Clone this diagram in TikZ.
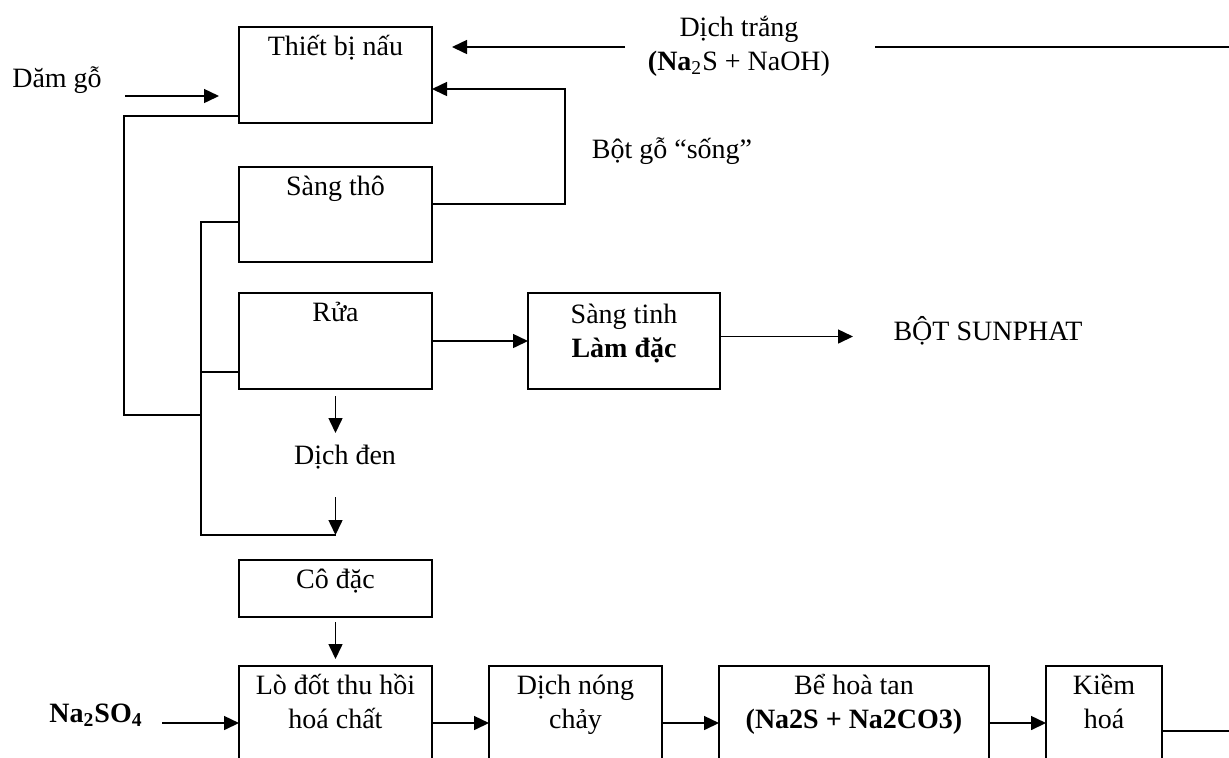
\documentclass[tikz,border=0pt]{standalone}
\usepackage{fontspec}
\setmainfont{Liberation Serif}
\usetikzlibrary{arrows.meta}

\begin{document}
\begin{tikzpicture}[x=0.5pt,y=-0.5pt,line width=0.75pt]
		\tikzstyle{every node}+=[inner sep=0pt,font=\fontsize{14}{17}\selectfont]
		\tikzstyle{box}=[draw,rectangle,outer sep=0pt,minimum width=96.5pt]
		\tikzstyle{txt}=[anchor=base,align=center]
		\tikzstyle{arr}=[-{Triangle[length=7.5pt,width=7pt]}]
		\clip (0,0) rectangle (1229,757);
		% khoi
		\node[box,minimum height=48pt,label={[txt,yshift=-14pt]north:Thiết bị nấu}] (thiet) at (335.5,75) {};
		\node[box,minimum height=47.5pt,label={[txt,yshift=-14pt]north:Sàng thô}] (sangtho) at (335.5,214.5) {};
		\node[box,minimum height=48pt,label={[txt,yshift=-14pt]north:Rửa}] (rua) at (335.5,341) {};
		\node[box,minimum height=48pt,minimum width=96pt,label={[txt,yshift=-32pt]north:{Sàng tinh\\\textbf{Làm đặc}}}] (sangtinh) at (624,341) {};
		\node[box,minimum height=28.5pt,label={[txt,yshift=-14pt]north:Cô đặc}] (coday) at (335.5,588.5) {};
		\node[box,minimum height=57pt,label={[txt,yshift=-31pt]north:{Lò đốt thu hồi\\hoá chất}}] (lodot) at (335.5,723) {};
		\node[box,minimum height=57pt,minimum width=86.5pt,label={[txt,yshift=-31pt]north:{Dịch nóng\\chảy}}] (nongchay) at (575.5,723) {};
		\node[box,minimum height=57pt,minimum width=135pt,label={[txt,yshift=-31pt]north:{Bể hoà tan\\\textbf{(Na2S + Na2CO3)}}}] (behoa) at (854,723) {};
		\node[box,minimum height=57pt,minimum width=58pt,label={[txt,yshift=-31pt]north:{Kiềm\\hoá}}] (kiem) at (1104,723) {};
		% chu
		\node[txt] (dam) at (57,87) {Dăm gỗ};
		\node[txt] (trang) at (739,70) {Dịch trắng\\\textbf{(Na}\textsubscript{2}S + NaOH)};
		\node[txt] (bot) at (672,158) {Bột gỗ “sống”};
		\node[txt] (den) at (345,464) {Dịch đen};
		\node[txt] (sunphat) at (988,340) {BỘT SUNPHAT};
		\node[txt] (na) at (96,722) {\textbf{Na\textsubscript{2}SO\textsubscript{4}}};
		% diem
		\coordinate (fbA) at (565,204);
		\coordinate (fbB) at (565,89);
		\coordinate (lnA) at (124,116);
		\coordinate (lnB) at (124,415);
		\coordinate (lnC) at (201,415);
		\coordinate (lnD) at (201,222);
		\coordinate (lnE) at (201,535);
		\coordinate (lnF) at (201,372);
		\coordinate (wlA) at (875,47);
		\coordinate (wlB) at (1229,47);
		% mui ten
		\draw[arr] (thiet.west) ++(-114,21) -- ++(94,0);
		\draw[arr] (thiet.east) ++(193,-28) -- ++(-173,0);
		\draw (wlA) -- (wlB);
		\draw[arr] (sangtho.east |- fbA) -- (fbA) -- (fbB) -- (thiet.east |- fbB);
		\draw (thiet.west |- lnA) -- (lnA) -- (lnB) -- (lnC);
		\draw (sangtho.west |- lnD) -- (lnD) -- (lnE) -- (rua.south |- lnE);
		\draw (rua.west |- lnF) -- (lnF);
		\draw[arr] (rua.east) -- (sangtinh.west);
		\draw[arr] (sangtinh.east) ++(0,-4.5) -- ++(133,0);
		\draw[arr] (rua.south) ++(0,7) -- ++(0,37);
		\draw[arr] (rua.south |- lnE) ++(0,-38) -- ++(0,38);
		\draw[arr] (coday.south) ++(0,5) -- ++(0,37);
		\draw[arr] (lodot.west) ++(-77,0) -- (lodot.west);
		\draw[arr] (lodot.east) -- (nongchay.west);
		\draw[arr] (nongchay.east) -- (behoa.west);
		\draw[arr] (behoa.east) -- (kiem.west);
		\draw (kiem.east) ++(0,8) -- ++(67,0);
	\end{tikzpicture}
\end{document}
